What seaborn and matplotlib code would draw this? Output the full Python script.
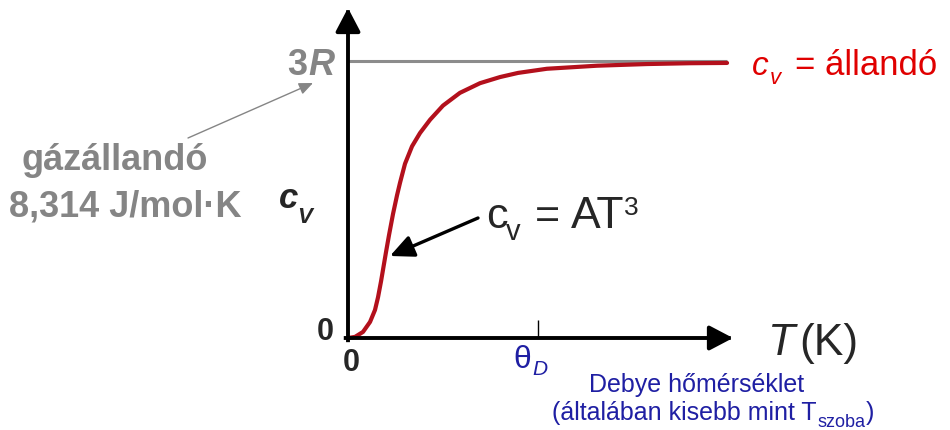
import matplotlib
matplotlib.use("Agg")
import matplotlib.pyplot as plt
import seaborn as sns

# Heat capacity of a solid vs. temperature (Debye model), T in units of theta_D,
# c_v in units of 3R
T_REDUCED = [0.0, 0.037, 0.079, 0.116, 0.142, 0.158, 0.174, 0.200, 0.216, 0.237,
             0.258, 0.274, 0.300, 0.337, 0.379, 0.432, 0.500, 0.589, 0.695, 0.800,
             0.895, 1.047, 1.311, 1.574, 1.800, 1.995]
CV_REDUCED = [0.0, 0.004, 0.022, 0.058, 0.101, 0.147, 0.205, 0.310, 0.372, 0.448,
              0.515, 0.561, 0.629, 0.692, 0.740, 0.788, 0.839, 0.885, 0.920, 0.942,
              0.957, 0.972, 0.983, 0.989, 0.992, 0.993]
CV_LIMIT = 1.0      # Dulong-Petit value, 3R
THETA_D = 1.0       # Debye temperature

sns.set_style("white")
plt.rcParams["font.family"] = ["Liberation Sans", "DejaVu Sans"]

GRAY = "#858585"
RED_CURVE = "#b3101c"
RED_TEXT = "#e00000"
BLUE = "#1f1fa3"

# Canvas geometry (pixels): origin of the diagram and pixels per unit
W, H = 950, 430
X0, Y0 = 348, 338
SX, SY = 190, 277


def px(x, y):
    """Convert a canvas pixel position to data coordinates."""
    return (x - X0) / SX, (Y0 - y) / SY


fig = plt.figure(figsize=(W / 100, H / 100), dpi=100)
ax = fig.add_axes([0, 0, 1, 1])
ax.set_xlim(px(0, 0)[0], px(W, 0)[0])
ax.set_ylim(px(0, H)[1], px(0, 0)[1])
ax.set_axis_off()

# 3R asymptote
ax.hlines(CV_LIMIT, 0, T_REDUCED[-1], color="#8c8c8c", lw=2.2, zorder=2)

# Debye curve
sns.lineplot(x=T_REDUCED, y=CV_REDUCED, ax=ax, color=RED_CURVE, lw=3.0,
             sort=False, zorder=3)
for ln in ax.get_lines():
    ln.set_solid_joinstyle("round")
    ln.set_solid_capstyle("round")

# Axes drawn as arrows
x_tip = px(733, 0)[0]
y_tip = px(0, 8)[1]
axis_arrow = dict(arrowstyle="-|>,head_length=0.8,head_width=0.42",
                  mutation_scale=18, color="black", lw=2.8,
                  shrinkA=0, shrinkB=0, capstyle="projecting")
ax.annotate("", xy=(x_tip, 0), xytext=(-0.012, 0), arrowprops=axis_arrow, zorder=4)
ax.annotate("", xy=(0, y_tip), xytext=(0, -0.008), arrowprops=axis_arrow, zorder=4)

# theta_D tick
ax.vlines(THETA_D, 0, 18 / SY, color="black", lw=1.0, zorder=4)

# Axis zero labels
ax.text(*px(325, 332), "0", fontsize=22, fontweight="bold", ha="center", va="center")
ax.text(*px(351, 363), "0", fontsize=22, fontweight="bold", ha="center", va="center")

# 3R label with explanation
ax.text(*px(307, 75), "3", fontsize=26, fontweight="bold", color=GRAY, ha="right", va="baseline")
ax.text(*px(334, 75), "R", fontsize=26, fontweight="bold", fontstyle="italic",
        color=GRAY, ha="right", va="baseline")
ax.text(*px(115, 170), "gázállandó", fontsize=26, fontweight="bold", color=GRAY,
        ha="center", va="baseline")
ax.text(*px(125, 217), "8,314 J/mol·K", fontsize=26, fontweight="bold", color=GRAY,
        ha="center", va="baseline")
ax.annotate("", xy=px(313, 83), xytext=px(188, 138),
            arrowprops=dict(arrowstyle="-|>,head_length=0.7,head_width=0.3",
                            mutation_scale=12, color=GRAY, lw=1.0,
                            shrinkA=0, shrinkB=0))

# y-axis title c_V
ax.text(*px(279, 208), "c", fontsize=25, fontweight="bold", fontstyle="italic",
        ha="left", va="baseline")
ax.text(*px(297, 223), "V", fontsize=16, fontweight="bold", fontstyle="italic",
        ha="left", va="baseline")

# c_v = állandó (high temperature limit)
ax.text(*px(752, 75), "c", fontsize=24, fontstyle="italic", color=RED_TEXT,
        ha="left", va="baseline")
ax.text(*px(770, 84), "v", fontsize=16, fontstyle="italic", color=RED_TEXT,
        ha="left", va="baseline")
ax.text(*px(795, 75), "= állandó", fontsize=25, color=RED_TEXT, ha="left", va="baseline")

# c_v = AT^3 (low temperature limit) with arrow to the curve
ax.text(*px(486, 228), "c", fontsize=31, ha="left", va="baseline")
ax.text(*px(506, 240), "v", fontsize=21, ha="left", va="baseline")
ax.text(*px(535, 228), "=", fontsize=31, ha="left", va="baseline")
ax.text(*px(571, 228), "AT", fontsize=32, ha="left", va="baseline")
ax.text(*px(624, 215), "3", fontsize=19, ha="left", va="baseline")
ax.annotate("", xy=px(390, 256), xytext=px(478, 218),
            arrowprops=dict(arrowstyle="-|>,head_length=0.9,head_width=0.42",
                            mutation_scale=16, color="black", lw=2.4,
                            shrinkA=0, shrinkB=0))

# x-axis title T (K)
ax.text(*px(768, 355), "T", fontsize=32, fontstyle="italic", ha="left", va="baseline")
ax.text(*px(799, 355), "(K)", fontsize=32, ha="left", va="baseline")

# Debye temperature label
ax.text(*px(513, 368), "θ", fontsize=23, color=BLUE, ha="left", va="baseline")
ax.text(*px(532, 375), "D", fontsize=15, fontstyle="italic", color=BLUE,
        ha="left", va="baseline")
ax.text(*px(697, 392), "Debye hőmérséklet", fontsize=18, color=BLUE,
        ha="center", va="baseline")
ax.text(*px(552, 420), "(általában kisebb mint T", fontsize=18, color=BLUE,
        ha="left", va="baseline")
ax.text(*px(818, 427), "szoba", fontsize=13, color=BLUE, ha="left", va="baseline")
ax.text(*px(866, 420), ")", fontsize=18, color=BLUE, ha="left", va="baseline")

fig.savefig("out.png", dpi=100, facecolor="white")
